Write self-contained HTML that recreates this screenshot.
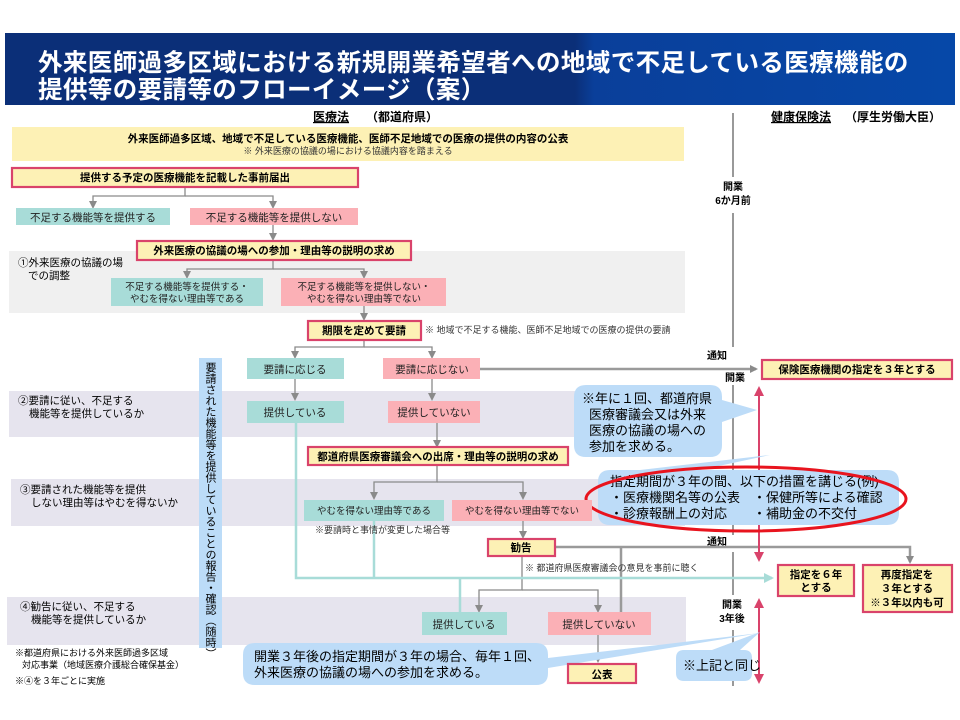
<!DOCTYPE html>
<html><head><meta charset="utf-8"><style>
body{margin:0;width:960px;height:720px;background:#fff;overflow:hidden}
svg{display:block;font-family:"Liberation Sans","Noto Sans CJK JP",sans-serif}
.b{font-weight:bold}
</style></head><body>
<svg width="960" height="720" viewBox="0 0 960 720">
<defs>
<marker id="ag" markerWidth="8" markerHeight="8" refX="6" refY="4" orient="auto" markerUnits="userSpaceOnUse"><path d="M0,0 L8,4 L0,8z" fill="#8a8a8a"/></marker>
<marker id="at" markerWidth="10" markerHeight="10" refX="8" refY="5" orient="auto" markerUnits="userSpaceOnUse"><path d="M0,0 L10,5 L0,10z" fill="#a8dcd8"/></marker>
<marker id="ar" markerWidth="10" markerHeight="10" refX="8" refY="5" orient="auto-start-reverse" markerUnits="userSpaceOnUse"><path d="M0,0 L10,5 L0,10z" fill="#d9436b"/></marker>
<linearGradient id="tg" x1="0" x2="1"><stop offset="0.6" stop-color="#0b2f78"/><stop offset="0.62" stop-color="#0a3f9a"/><stop offset="1" stop-color="#0648a8"/></linearGradient>
</defs>
<!-- title -->
<rect x="5" y="33" width="950" height="72" fill="url(#tg)"/>
<text x="38" y="71" fill="#fff" font-size="24.5" class="b" letter-spacing="0.4">外来医師過多区域における新規開業希望者への地域で不足している医療機能の</text>
<text x="38" y="98" fill="#fff" font-size="24.5" class="b" letter-spacing="0.4">提供等の要請等のフローイメージ（案）</text>
<!-- headers -->
<text x="313" y="121" font-size="12" class="b" text-decoration="underline">医療法</text>
<text x="366" y="121" font-size="12" class="b">（都道府県）</text>
<text x="771" y="121" font-size="12" class="b" text-decoration="underline">健康保険法</text>
<text x="845" y="121" font-size="12" class="b">（厚生労働大臣）</text>
<!-- bands -->
<rect x="12" y="127" width="672" height="34" fill="#fdf1b5"/>
<rect x="9" y="251" width="676" height="62" fill="#f0f0f0"/>
<rect x="9" y="391" width="676" height="46" fill="#e6e4ee"/>
<rect x="11" y="479" width="674" height="47" fill="#e6e4ee"/>
<rect x="7" y="597" width="679" height="48" fill="#e6e4ee"/>
<text x="348" y="142" font-size="10.5" class="b" text-anchor="middle">外来医師過多区域、地域で不足している医療機能、医師不足地域での医療の提供の内容の公表</text>
<text x="348" y="154" font-size="9" text-anchor="middle" fill="#333">※ 外来医療の協議の場における協議内容を踏まえる</text>
<!-- timeline -->
<g stroke="#777" stroke-width="1.5">
<line x1="733" y1="113" x2="733" y2="177"/><line x1="733" y1="213" x2="733" y2="347"/>
<line x1="733" y1="385" x2="733" y2="535"/><line x1="733" y1="552" x2="733" y2="595"/>
<line x1="733" y1="630" x2="733" y2="686"/>
</g>
<text x="733" y="190" font-size="10" class="b" text-anchor="middle">開業</text>
<text x="733" y="204" font-size="10" class="b" text-anchor="middle">6か月前</text>
<text x="717" y="359" font-size="10" class="b" text-anchor="middle">通知</text>
<text x="735" y="381" font-size="10" class="b" text-anchor="middle">開業</text>
<text x="717" y="545" font-size="10" class="b" text-anchor="middle">通知</text>
<text x="732" y="608" font-size="10" class="b" text-anchor="middle">開業</text>
<text x="732" y="622" font-size="10" class="b" text-anchor="middle">3年後</text>
<!-- gray connectors -->
<g stroke="#8a8a8a" stroke-width="1.3" fill="none">
<path d="M185 187V196H93V207" marker-end="url(#ag)"/><path d="M185 196H273V207" marker-end="url(#ag)"/>
<path d="M273 225V239" marker-end="url(#ag)"/>
<path d="M273 260V269H187V277" marker-end="url(#ag)"/><path d="M273 269H364V277" marker-end="url(#ag)"/>
<path d="M364 306V319" marker-end="url(#ag)"/>
<path d="M364 340V347H295V357" marker-end="url(#ag)"/><path d="M364 347H432V357" marker-end="url(#ag)"/>
<path d="M295 379V399" marker-end="url(#ag)"/><path d="M432 379V399" marker-end="url(#ag)"/>
<path d="M437 423V446" marker-end="url(#ag)"/>
<path d="M437 465V482H374V498" marker-end="url(#ag)"/><path d="M437 482H523V498" marker-end="url(#ag)"/>
<path d="M523 521V537" marker-end="url(#ag)"/>
<path d="M522 556V590H479V611" marker-end="url(#ag)"/><path d="M522 590H598V611" marker-end="url(#ag)"/>
<path d="M598 635V661" marker-end="url(#ag)"/>
</g>
<g stroke="#9a9a9a" stroke-width="2.5" fill="none">
<path d="M480 369H756" marker-end="url(#ag)"/>
<path d="M555 547H910V562" marker-end="url(#ag)"/>
<path d="M621 547V612"/>
</g>
<!-- teal connectors -->
<g stroke="#a8dcd8" stroke-width="2.5" fill="none">
<path d="M296 423V578H772" marker-end="url(#at)"/>
<path d="M374 521V578"/><path d="M460 578V612"/>
</g>
<!-- pink double arrows -->
<g stroke="#d9436b" stroke-width="2" fill="none">
<line x1="759" y1="388" x2="759" y2="560" marker-start="url(#ar)" marker-end="url(#ar)"/>
<line x1="759" y1="600" x2="759" y2="682" marker-start="url(#ar)" marker-end="url(#ar)"/>
</g>
<!-- left notes -->
<text x="18" y="266" font-size="10.5">①外来医療の協議の場</text>
<text x="28" y="279" font-size="10.5">での調整</text>
<text x="18" y="404" font-size="10.5">②要請に従い、不足する</text>
<text x="29" y="417" font-size="10.5">機能等を提供しているか</text>
<text x="20" y="493" font-size="10.5">③要請された機能等を提供</text>
<text x="31" y="506" font-size="10.5">しない理由等はやむを得ないか</text>
<text x="20" y="610" font-size="10.5">④勧告に従い、不足する</text>
<text x="31" y="623" font-size="10.5">機能等を提供しているか</text>
<text x="15" y="656" font-size="9">※都道府県における外来医師過多区域</text>
<text x="22" y="668" font-size="9">対応事業（地域医療介護総合確保基金）</text>
<text x="15" y="684" font-size="9">※④を３年ごとに実施</text>
<!-- vertical bar -->
<rect x="199" y="358" width="23" height="290" fill="#bcdcf8"/>
<text font-size="11" x="210" y="362" style="writing-mode:vertical-rl">要請された機能等を提供していることの報告・確認（随時）</text>
<!-- callouts -->
<g fill="#bddcf8">
<path d="M586 385H710Q722 385 722 397V400L757 410L722 422V445Q722 457 710 457H586Q574 457 574 445V397Q574 385 586 385Z"/>
<path d="M610 470H640L770 455L700 470H887Q899 470 899 482V513Q899 525 887 525H610Q598 525 598 513V482Q598 470 610 470Z"/>
<path d="M255 643H536Q548 643 548 655V658L760 633L548 668V673Q548 685 536 685H255Q243 685 243 673V655Q243 643 255 643Z"/>
<path d="M684 650H712L760 632L740 650H744Q752 650 752 658V673Q752 681 744 681H684Q676 681 676 673V658Q676 650 684 650Z"/>
</g>
<g font-size="13">
<text x="582" y="403">※年に１回、都道府県</text>
<text x="589" y="419">医療審議会又は外来</text>
<text x="589" y="435">医療の協議の場への</text>
<text x="589" y="451">参加を求める。</text>
<text x="610" y="486">指定期間が３年の間、以下の措置を講じる(例)</text>
<text x="610" y="502">・医療機関名等の公表　・保健所等による確認</text>
<text x="610" y="518">・診療報酬上の対応　　・補助金の不交付</text>
<text x="254" y="661">開業３年後の指定期間が３年の場合、毎年１回、</text>
<text x="254" y="677">外来医療の協議の場への参加を求める。</text>
<text x="683" y="670">※上記と同じ</text>
</g>
<ellipse cx="746" cy="499" rx="160" ry="32" fill="none" stroke="#e8141e" stroke-width="3"/>
<!-- emphasized boxes -->
<g fill="#fdf1b5" stroke="#d9436b" stroke-width="2.2">
<rect x="12" y="168" width="346" height="19"/>
<rect x="137" y="241" width="274" height="19"/>
<rect x="308" y="321" width="113" height="19"/>
<rect x="762" y="360" width="190" height="19"/>
<rect x="308" y="447" width="260" height="18"/>
<rect x="488" y="539" width="67" height="17"/>
<rect x="778" y="565" width="76" height="31"/>
<rect x="863" y="565" width="89" height="47"/>
<rect x="568" y="664" width="68" height="19"/>
</g>
<g font-size="10.5" class="b" text-anchor="middle">
<text x="185" y="181">提供する予定の医療機能を記載した事前届出</text>
<text x="274" y="254">外来医療の協議の場への参加・理由等の説明の求め</text>
<text x="364" y="334">期限を定めて要請</text>
<text x="857" y="373">保険医療機関の指定を３年とする</text>
<text x="438" y="460">都道府県医療審議会への出席・理由等の説明の求め</text>
<text x="521" y="551">勧告</text>
<text x="816" y="578">指定を６年</text>
<text x="816" y="591">とする</text>
<text x="907" y="578">再度指定を</text>
<text x="907" y="592">３年とする</text>
<text x="907" y="606">※３年以内も可</text>
<text x="602" y="678">公表</text>
</g>
<!-- teal / pink boxes -->
<g fill="#a8dcd8">
<rect x="16" y="208" width="154" height="17"/><rect x="111" y="278" width="152" height="28"/>
<rect x="247" y="358" width="97" height="21"/><rect x="247" y="401" width="97" height="22"/>
<rect x="304" y="500" width="140" height="21"/><rect x="422" y="612" width="85" height="23"/>
</g>
<g fill="#fbb0b6">
<rect x="190" y="208" width="168" height="17"/><rect x="281" y="278" width="165" height="28"/>
<rect x="383" y="358" width="97" height="21"/><rect x="388" y="401" width="92" height="22"/>
<rect x="452" y="500" width="140" height="21"/><rect x="548" y="612" width="103" height="23"/>
</g>
<g font-size="10.5" text-anchor="middle" fill="#222">
<text x="93" y="221">不足する機能等を提供する</text>
<text x="274" y="221">不足する機能等を提供しない</text>
<text x="187" y="290" font-size="9.5">不足する機能等を提供する・</text>
<text x="187" y="302" font-size="9.5">やむを得ない理由等である</text>
<text x="364" y="290" font-size="9.5">不足する機能等を提供しない・</text>
<text x="364" y="302" font-size="9.5">やむを得ない理由等でない</text>
<text x="295" y="373">要請に応じる</text>
<text x="432" y="373">要請に応じない</text>
<text x="295" y="416">提供している</text>
<text x="434" y="416">提供していない</text>
<text x="374" y="514" font-size="9.5">やむを得ない理由等である</text>
<text x="522" y="514" font-size="9.5">やむを得ない理由等でない</text>
<text x="464" y="628">提供している</text>
<text x="599" y="628">提供していない</text>
</g>
<g font-size="9" fill="#333">
<text x="425" y="333">※ 地域で不足する機能、医師不足地域での医療の提供の要請</text>
<text x="315" y="533">※要請時と事情が変更した場合等</text>
<text x="525" y="571">※ 都道府県医療審議会の意見を事前に聴く</text>
</g>
</svg>
</body></html>
